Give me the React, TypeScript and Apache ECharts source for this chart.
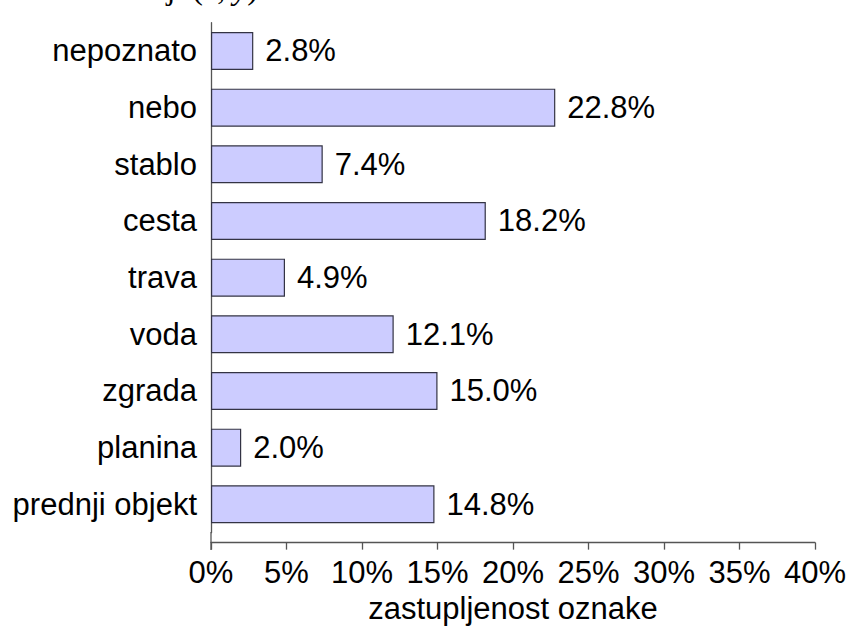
import React, { useEffect, useRef } from "react";
import * as echarts from "echarts";

const categories = [
  "nepoznato",
  "nebo",
  "stablo",
  "cesta",
  "trava",
  "voda",
  "zgrada",
  "planina",
  "prednji objekt",
];
const values = [2.8, 22.8, 7.4, 18.2, 4.9, 12.1, 15.0, 2.0, 14.8];
const xTicks = { min: 0, max: 40, interval: 5 };
const axisName = "zastupljenost oznake";
const topCaption = "piksela na lokaciji ";

export default function App() {
  const ref = useRef<HTMLDivElement>(null);
  useEffect(() => {
    if (!ref.current) return;
    const chart = echarts.init(ref.current, null, { renderer: "svg" });
    const font = "'Liberation Sans', Arial, Helvetica, sans-serif";
    const serif = "'Liberation Serif', 'DejaVu Serif', serif";
    chart.setOption({
      animation: false,
      backgroundColor: "#ffffff",
      grid: {
        left: 211,
        right: 34,
        top: 22.65,
        height: 510,
        containLabel: false,
        outerBoundsMode: "none",
      },
      xAxis: {
        type: "value",
        min: xTicks.min,
        max: xTicks.max,
        interval: xTicks.interval,
        offset: 10,
        axisLine: { show: true, lineStyle: { color: "#555", width: 1.3 } },
        axisTick: { show: true, length: 7, lineStyle: { color: "#555", width: 1.3 } },
        axisLabel: {
          formatter: "{value}%",
          fontFamily: font,
          fontSize: 31,
          color: "#000",
          margin: 14,
        },
        splitLine: { show: false },
        name: axisName,
        nameLocation: "middle",
        nameGap: 49,
        nameTextStyle: { fontFamily: font, fontSize: 31, color: "#000" },
      },
      yAxis: {
        type: "category",
        data: categories,
        inverse: true,
        axisLine: { show: true, lineStyle: { color: "#555", width: 1.3 } },
        axisTick: { show: false },
        axisLabel: { fontFamily: font, fontSize: 31, color: "#000", margin: 14 },
      },
      series: [
        {
          type: "bar",
          data: values,
          barWidth: 38,
          itemStyle: { color: "#ccccff", borderColor: "#333344", borderWidth: 1.2 },
          label: {
            show: true,
            position: "right",
            distance: 12,
            fontFamily: font,
            fontSize: 31,
            color: "#000",
            formatter: (p: any) => Number(p.value).toFixed(1) + "%",
          },
        },
      ],
      graphic: [
        {
          type: "line",
          shape: { x1: 211, y1: 532, x2: 211, y2: 550 },
          style: { stroke: "#555", lineWidth: 1.3 },
        },
        {
          type: "text",
          x: 258,
          y: -12,
          style: {
            text: topCaption + "({i|x}, {i|y})",
            align: "right",
            verticalAlign: "middle",
            fontFamily: serif,
            fontSize: 32,
            fill: "#000",
            rich: {
              i: {
                fontFamily: serif,
                fontStyle: "italic",
                fontSize: 32,
                fill: "#000",
              },
            },
          },
        },
      ],
    });
    return () => chart.dispose();
  }, []);
  return (
    <div
      ref={ref}
      style={{ position: "fixed", left: 0, top: 0, width: 849, height: 627 }}
    />
  );
}
